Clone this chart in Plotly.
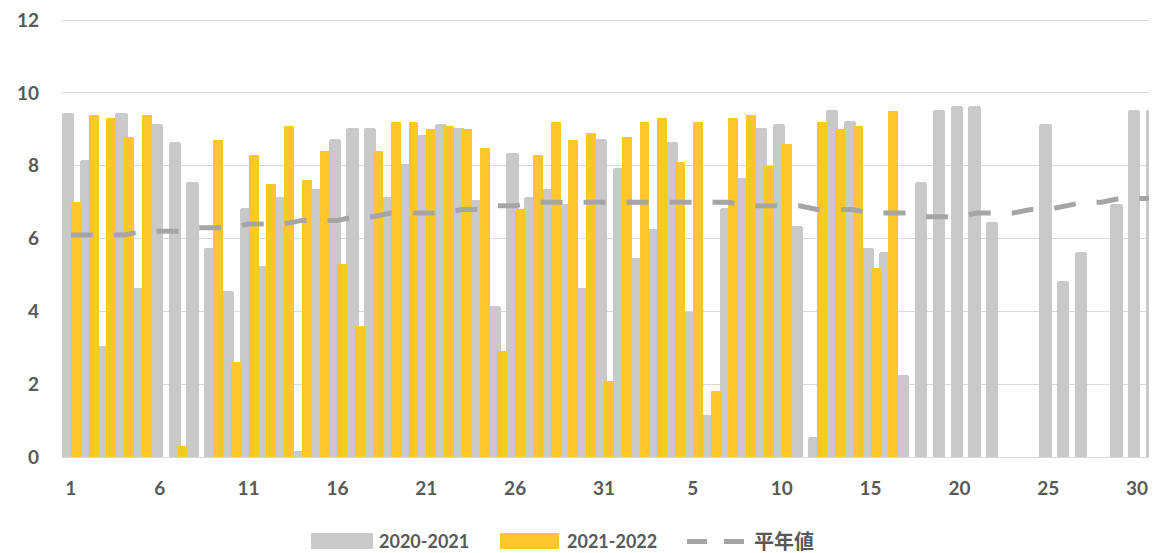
import plotly.graph_objects as go

# Categories: two consecutive 31-day months
days_month1 = list(range(1, 32))
days_month2 = list(range(1, 32))
categories = [str(d) for d in days_month1] + [str(d) for d in days_month2]

series_2020_2021 = [
    9.44, 8.16, 3.06, 9.44, 4.65, 9.15, 8.65, 7.55, 5.75, 4.56,
    6.85, 5.26, 7.15, 0.16, 7.36, 8.74, 9.05, 9.05, 7.15, 8.05,
    8.85, 9.15, 9.05, 7.06, 4.16, 8.34, 7.15, 7.36, 6.95, 4.65,
    8.74, 7.94, 5.46, 6.25, 8.65, 3.97, 1.15, 6.85, 7.66, 9.05,
    9.15, 6.35, 0.56, 9.53, 9.24, 5.75, 5.64, 2.25, 7.55, 9.53,
    9.64, 9.64, 6.45, None, None, 9.14, 4.84, 5.64, None, 6.94,
    9.53, 9.53,
]

series_2021_2022 = [
    7.0, 9.4, 9.3, 8.8, 9.4, None, 0.3, None, 8.7, 2.6,
    8.3, 7.5, 9.1, 7.6, 8.4, 5.3, 3.6, 8.4, 9.2, 9.2,
    9.0, 9.1, 9.0, 8.5, 2.9, 6.8, 8.3, 9.2, 8.7, 8.9,
    2.1, 8.8, 9.2, 9.3, 8.1, 9.2, 1.8, 9.3, 9.4, 8.0,
    8.6, None, 9.2, 9.0, 9.1, 5.2, 9.5, None, None, None,
    None, None, None, None, None, None, None, None, None, None,
    None, None,
]

normal_values = [
    6.1, 6.1, 6.1, 6.1, 6.2, 6.2, 6.2, 6.3, 6.3, 6.3,
    6.4, 6.4, 6.4, 6.5, 6.5, 6.5, 6.6, 6.6, 6.7, 6.7,
    6.7, 6.7, 6.8, 6.8, 6.9, 6.9, 7.0, 7.0, 7.0, 7.0,
    7.0, 7.0, 7.0, 7.0, 7.0, 7.0, 7.0, 7.0, 6.9, 6.9,
    6.9, 6.9, 6.8, 6.8, 6.8, 6.7, 6.7, 6.7, 6.6, 6.6,
    6.6, 6.7, 6.7, 6.7, 6.8, 6.8, 6.9, 7.0, 7.0, 7.1,
    7.1, 7.1,
]

series_names = ["2020-2021", "2021-2022", "平年値"]
y_ticks = [0, 2, 4, 6, 8, 10, 12]

GRAY = "#c9c9c9"
YELLOW = "#ffc72c"
LINE = "#a5a5a5"
TEXT = "#595959"
FONT = "Lato, 'Noto Sans CJK JP', sans-serif"

x_idx = list(range(len(categories)))
tick_idx = x_idx[::5]
tick_txt = [categories[i] for i in tick_idx]

fig = go.Figure()
fig.add_trace(go.Bar(
    x=x_idx, y=series_2020_2021, name=series_names[0],
    marker=dict(color=GRAY, line=dict(width=0), cornerradius=3),
    offset=-0.5, width=0.69, showlegend=False,
))
fig.add_trace(go.Bar(
    x=x_idx, y=series_2021_2022, name=series_names[1],
    marker=dict(color=YELLOW, line=dict(width=0)),
    offset=0.0, width=0.56, showlegend=False,
))
fig.add_trace(go.Scatter(
    x=x_idx, y=normal_values, name=series_names[2], mode="lines",
    line=dict(color=LINE, width=5, dash="22px,21px"),
    showlegend=False,
))

# page body has an 8px margin: the figure is laid out 8px smaller and shifted
OFF = 8
Y_TOP = 12.06  # a hair above 12 so the top gridline/label are kept
W, H = 1157 - OFF, 553 - OFF
y0_px, y12_px = 457, 20          # screen pixels of 0 and 12
unit = (y0_px - y12_px) / 12.0
top_px = y0_px - Y_TOP * unit
L, R, T = 62 - OFF, 0, round(top_px - OFF)
B = H - (y0_px - OFF)
pw, ph = W - L - R, H - T - B


def px(xs):
    return (xs - OFF - L) / pw


def py(ys):
    return (H - B - (ys - OFF)) / ph


shapes = [
    dict(type="rect", xref="paper", yref="paper",
         x0=px(311), x1=px(373), y0=py(549), y1=py(533),
         fillcolor=GRAY, line=dict(width=0)),
    dict(type="rect", xref="paper", yref="paper",
         x0=px(500), x1=px(559), y0=py(549), y1=py(533),
         fillcolor=YELLOW, line=dict(width=0)),
    dict(type="line", xref="paper", yref="paper",
         x0=px(687), x1=px(745), y0=py(541.5), y1=py(541.5),
         line=dict(color=LINE, width=5, dash="20px,17px")),
]
annotations = [
    dict(xref="paper", yref="paper", x=px(377), y=py(541), text=series_names[0],
         showarrow=False, xanchor="left", yanchor="middle",
         font=dict(family=FONT, size=18, color=TEXT, weight="bold")),
    dict(xref="paper", yref="paper", x=px(565), y=py(541), text=series_names[1],
         showarrow=False, xanchor="left", yanchor="middle",
         font=dict(family=FONT, size=18, color=TEXT, weight="bold")),
    dict(xref="paper", yref="paper", x=px(752), y=py(541), text=series_names[2],
         showarrow=False, xanchor="left", yanchor="middle",
         font=dict(family=FONT, size=20, color=TEXT, weight="bold")),
]

fig.update_layout(
    width=W, height=H, autosize=False,
    margin=dict(l=L, r=R, t=T, b=B, pad=0),
    barmode="overlay", bargap=0,
    plot_bgcolor="white", paper_bgcolor="white",
    font=dict(family=FONT, size=18, color=TEXT, weight="bold"),
    shapes=shapes, annotations=annotations,
    showlegend=False,
)
fig.update_xaxes(
    range=[-0.5, 61.12], tickmode="array", tickvals=tick_idx, ticktext=tick_txt,
    showgrid=False, showline=True, linecolor="#d9d9d9", linewidth=1,
    ticks="", ticklabelstandoff=14, zeroline=False, ticklabeloverflow="allow",
    tickfont=dict(family=FONT, size=19, color=TEXT, weight="bold"),
)
fig.update_yaxes(
    range=[0, Y_TOP], tickmode="array", tickvals=y_ticks,
    showgrid=True, gridcolor="#d9d9d9", gridwidth=1, zeroline=False,
    showline=False, ticks="", ticklabelstandoff=22, ticklabeloverflow="allow",
    tickfont=dict(family=FONT, size=19, color=TEXT, weight="bold"),
)

fig.write_html("out.html")
